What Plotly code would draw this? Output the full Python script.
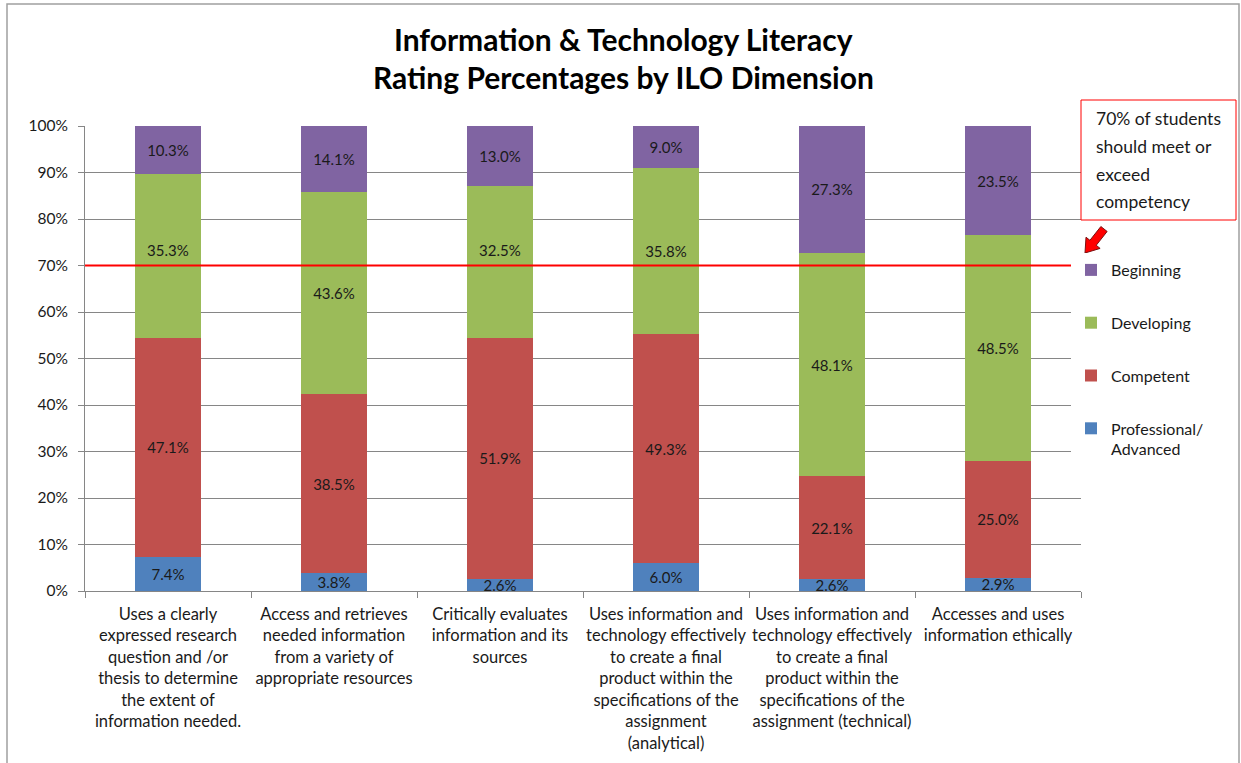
import math
import plotly.graph_objects as go

categories = [
    "Uses a clearly<br>expressed research<br>question and /or<br>thesis to determine<br>the extent of<br>information needed.",
    "Access and retrieves<br>needed information<br>from a variety of<br>appropriate resources",
    "Critically evaluates<br>information and its<br>sources",
    "Uses information and<br>technology effectively<br>to create a final<br>product within the<br>specifications of the<br>assignment<br>(analytical)",
    "Uses information and<br>technology effectively<br>to create a final<br>product within the<br>specifications of the<br>assignment (technical)",
    "Accesses and uses<br>information ethically",
]
professional = [7.4, 3.8, 2.6, 6.0, 2.6, 2.9]
competent = [47.1, 38.5, 51.9, 49.3, 22.1, 25.0]
developing = [35.3, 43.6, 32.5, 35.8, 48.1, 48.5]
beginning = [10.3, 14.1, 13.0, 9.0, 27.3, 23.5]
series_names = ["Professional/<br>Advanced", "Competent", "Developing", "Beginning"]
series_values = [professional, competent, developing, beginning]
series_colors = ["#4F81BD", "#C0504D", "#9BBB59", "#8064A2"]
y_ticks = list(range(0, 101, 10))
threshold = 70

FONT = "Lato"
TXT = "#1a1a1a"
LABEL_SIZE = 15

# plot area geometry in pixels (for decorations)
L, R, T, B = 85, 1081, 126, 591
W, H = 1241, 763


def px(x):
    return (x - L) / (R - L)


def py(y):
    return (B - y) / (B - T)


fig = go.Figure()
annotations = []
base = [0.0] * len(categories)
n_series = len(series_names)
for k, (name, vals, col) in enumerate(zip(series_names, series_values, series_colors)):
    texts = []
    for i, v in enumerate(vals):
        centre = base[i] + v / 2
        # labels that would sit on the threshold line are nudged above it
        if abs(centre - threshold) < 2.5:
            texts.append("")
            annotations.append(dict(text=f"{v:.1f}%", x=categories[i], y=threshold,
                                    xref="x", yref="y", yanchor="bottom", yshift=5,
                                    showarrow=False,
                                    font=dict(family=FONT, size=LABEL_SIZE, color=TXT)))
        else:
            texts.append(f"{v:.1f}%")
        base[i] += v
    fig.add_trace(go.Bar(
        x=categories, y=vals, name=name,
        marker=dict(color=col, line=dict(width=0)),
        text=texts,
        textposition="inside", insidetextanchor="middle",
        constraintext="none",
        textfont=dict(family=FONT, size=LABEL_SIZE, color=TXT),
        legendgroup=name, legendrank=n_series - k,
        hoverinfo="skip",
    ))

shapes = []
# 70% line
shapes.append(dict(type="line", xref="x domain", yref="y", x0=0, x1=1,
                   y0=threshold, y1=threshold, line=dict(color="#FF0000", width=2)))
# outer chart border
shapes.append(dict(type="rect", xref="paper", yref="paper",
                   x0=px(7), x1=px(1239), y0=py(4), y1=py(775),
                   line=dict(color="#A0A0A0", width=1.5), layer="below"))
# callout box
shapes.append(dict(type="rect", xref="paper", yref="paper",
                   x0=px(1081), x1=px(1236), y0=py(100), y1=py(220),
                   line=dict(color="#FF0000", width=1), fillcolor="white"))
# block arrow
Sx, Sy = 1104, 229
Tx, Ty = 1085, 253
dx, dy = Tx - Sx, Ty - Sy
ln = math.hypot(dx, dy)
ux, uy = dx / ln, dy / ln
nx, ny = -uy, ux
hl, hw, sw = 13, 9, 4
Hx, Hy = Tx - ux * hl, Ty - uy * hl
pts = [
    (Sx + nx * sw, Sy + ny * sw), (Hx + nx * sw, Hy + ny * sw), (Hx + nx * hw, Hy + ny * hw),
    (Tx, Ty), (Hx - nx * hw, Hy - ny * hw), (Hx - nx * sw, Hy - ny * sw), (Sx - nx * sw, Sy - ny * sw),
]
path = "M " + " L ".join(f"{px(a):.5f},{py(b):.5f}" for a, b in pts) + " Z"
shapes.append(dict(type="path", xref="paper", yref="paper", path=path,
                   fillcolor="#FF0000", line=dict(color="#7a1010", width=1)))

for i, line in enumerate(["Information & Technology Literacy", "Rating Percentages by ILO Dimension"]):
    annotations.append(dict(text=f"<b>{line}</b>", xref="paper", yref="paper",
                            x=px(623), y=py(39 + 38 * i), xanchor="center", yanchor="middle",
                            showarrow=False, font=dict(family=FONT, size=30, color="black")))
for i, line in enumerate(["70% of students", "should meet or", "exceed", "competency"]):
    annotations.append(dict(text=line, xref="paper", yref="paper",
                            x=px(1094), y=py(119 + 27.5 * i), xanchor="left", yanchor="middle",
                            showarrow=False, font=dict(family=FONT, size=17.5, color=TXT)))

fig.update_layout(
    width=W, height=H, autosize=False,
    barmode="stack", barnorm="percent", bargap=0.6,
    plot_bgcolor="white", paper_bgcolor="white",
    margin=dict(l=L, r=W - R, t=T, b=H - B, autoexpand=False),
    font=dict(family=FONT, size=14, color=TXT),
    showlegend=True,
    legend=dict(x=px(1071), y=py(253), xanchor="left", yanchor="top",
                traceorder="grouped", tracegroupgap=29, valign="top",
                font=dict(family=FONT, size=16, color=TXT), itemclick=False),
    shapes=shapes,
    annotations=annotations,
    xaxis=dict(showline=True, linecolor="#868686", linewidth=1, ticks="outside",
               tickson="boundaries", ticklen=6, tickcolor="#868686", tickangle=0,
               automargin=False, ticklabelstandoff=8,
               tickfont=dict(family=FONT, size=16.5, color=TXT), showgrid=False),
    yaxis=dict(range=[0, 100], tickvals=y_ticks, ticktext=[f"{v}%" for v in y_ticks],
               showline=True, linecolor="#868686", linewidth=1, ticks="outside", ticklen=6,
               tickcolor="#868686", gridcolor="#868686", gridwidth=1, automargin=False,
               ticklabelstandoff=7,
               tickfont=dict(family=FONT, size=15.5, color=TXT), zeroline=False),
)

fig.write_html("out.html", config={"displayModeBar": False},
               post_script="document.body.style.margin='0';")
